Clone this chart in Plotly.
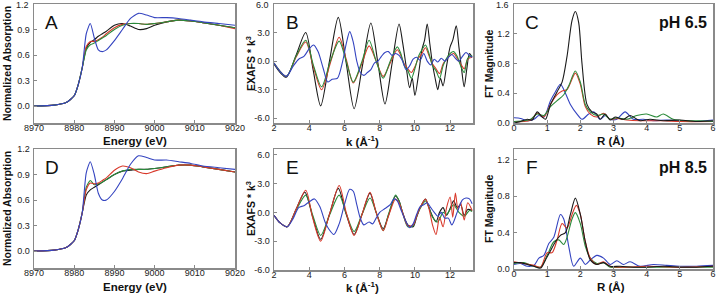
import plotly.graph_objects as go

# ---------------- XANES (panels A, D) ----------------
energy = [8970, 8975, 8978, 8980, 8981, 8982, 8983, 8984, 8985, 8986, 8987, 8988,
          8990, 8992, 8994, 8996, 8998, 9000, 9003, 9006, 9009, 9012, 9016, 9020]
pre = [0.0, 0.01, 0.04, 0.12, 0.25, 0.45]

a_black = pre + [0.68, 0.75, 0.78, 0.82, 0.85, 0.88, 0.95, 0.97, 0.94, 0.90, 0.91, 0.95, 0.99, 1.01, 1.00, 0.98, 0.95, 0.92]
a_red   = pre + [0.70, 0.76, 0.76, 0.78, 0.81, 0.85, 0.92, 0.96, 0.97, 0.97, 0.96, 0.97, 0.99, 1.01, 1.00, 0.98, 0.95, 0.91]
a_green = pre + [0.66, 0.72, 0.74, 0.77, 0.80, 0.83, 0.90, 0.95, 0.97, 0.97, 0.96, 0.97, 0.99, 1.01, 1.00, 0.98, 0.95, 0.92]
a_blue  = pre + [0.85, 0.97, 0.80, 0.66, 0.64, 0.66, 0.77, 0.90, 1.03, 1.09, 1.07, 1.04, 1.04, 1.03, 1.01, 0.99, 0.97, 0.95]

d_black = pre + [0.66, 0.72, 0.75, 0.78, 0.81, 0.84, 0.90, 0.94, 0.95, 0.96, 0.96, 0.97, 0.99, 1.01, 1.01, 0.99, 0.96, 0.93]
d_red   = pre + [0.72, 0.80, 0.79, 0.80, 0.83, 0.86, 0.95, 1.00, 0.98, 0.93, 0.91, 0.94, 0.98, 1.01, 1.01, 0.99, 0.96, 0.93]
d_green = pre + [0.75, 0.83, 0.78, 0.79, 0.81, 0.84, 0.90, 0.94, 0.96, 0.96, 0.96, 0.97, 0.99, 1.01, 1.01, 0.99, 0.96, 0.93]
d_blue  = pre + [0.92, 1.05, 0.90, 0.68, 0.60, 0.60, 0.70, 0.85, 1.02, 1.12, 1.10, 1.07, 1.07, 1.05, 1.03, 1.00, 0.98, 0.96]

# ---------------- EXAFS (panels B, E) ----------------
b_black_k = [2.0, 2.35, 2.7, 3.25, 3.8, 4.22, 4.65, 5.15, 5.65, 6.1, 6.55, 7.02, 7.5, 7.9, 8.3, 8.7, 9.1, 9.3, 9.5, 9.7,
             9.85, 10.0, 10.2, 10.4, 10.55, 10.7, 10.85, 11.0, 11.15, 11.3, 11.45, 11.6, 11.8, 12.0, 12.15, 12.35,
             12.5, 12.65, 12.8, 12.95, 13.1, 13.25]
b_black = [-0.3, -1.2, -1.7, 0.6, 3.0, -0.9, -4.7, 0.0, 4.6, -0.2, -5.0, -0.5, 4.0, -0.2, -4.5, -0.3, 3.9, 2.0, -0.5, -2.8,
           -1.8, -3.6, -1.5, 1.2, 2.2, 3.9, 1.8, -0.3, -1.8, -3.0, -1.8, -2.6, -0.5, 1.5, 2.2, 3.7,
           1.5, -0.8, -2.7, -0.8, 0.8, 0.4]

b_green_k = [2.0, 2.7, 3.25, 3.8, 4.25, 4.7, 5.2, 5.7, 6.1, 6.5, 7.0, 7.4, 7.8, 8.2, 8.6, 9.0, 9.2, 9.4, 9.6, 9.8,
             10.0, 10.2, 10.4, 10.6, 10.8, 11.0, 11.2, 11.4, 11.6, 11.8, 12.0, 12.2, 12.4, 12.6, 12.8, 13.0, 13.25]
b_green = [-0.2, -1.6, 0.5, 2.2, -0.5, -2.7, 0.0, 2.1, 0.0, -2.2, 0.0, 2.2, 0.0, -1.8, 0.0, 1.5, 0.8, -0.5, -1.0, -1.8,
           -0.8, 0.5, 1.2, 1.7, 0.8, -0.5, -1.0, -1.8, -0.5, 0.3, 0.8, 1.0, 0.5, -0.5, -1.2, 0.3, 0.6]

b_red_k = b_green_k
b_red = [-0.2, -1.6, 0.4, 2.0, -0.7, -3.0, -0.2, 2.5, 0.2, -2.3, -0.2, 1.6, 0.0, -1.6, -0.2, 1.2, 0.6, -0.3, -0.8, -1.2,
         -0.6, 0.3, 0.8, 1.4, 0.6, -0.3, -0.8, -1.3, -0.3, 0.2, 0.6, 0.8, 0.3, -0.3, -0.8, 0.2, 0.4]

b_blue_k = [2.0, 2.35, 2.7, 3.1, 3.4, 3.7, 4.0, 4.25, 4.5, 4.8, 5.05, 5.3, 5.6, 5.9, 6.1, 6.3, 6.5, 6.7, 6.9, 7.1,
            7.3, 7.5, 7.7, 7.9, 8.1, 8.3, 8.5, 8.7, 8.9, 9.1, 9.3, 9.5, 9.7, 9.9, 10.1, 10.3, 10.5, 10.7, 10.9,
            11.1, 11.3, 11.5, 11.7, 11.9, 12.1, 12.3, 12.5, 12.7, 12.9, 13.1, 13.25]
b_blue = [-0.2, -1.1, -1.6, -0.5, 0.2, 0.5, 1.3, 1.7, 1.0, -0.8, -2.2, -1.9, -1.8, 0.0, 1.8, 3.1, 2.0, 0.0, -1.2, -1.5,
          -1.2, -0.9, -0.2, 0.0, 0.5, 0.9, 1.0, 0.6, 0.8, 0.6, 0.0, -0.9, -0.5, 0.2, 0.4, 0.1, 0.8, 0.0, -0.4,
          0.2, -0.1, 0.3, 0.0, 0.4, 0.7, 0.3, 0.0, 0.5, 0.9, 0.6, 0.4]

e_black_k = [2.0, 2.35, 2.75, 3.25, 3.75, 4.2, 4.65, 5.15, 5.65, 6.1, 6.55, 7.0, 7.45, 7.8, 8.2, 8.5, 8.9, 9.1, 9.3, 9.6,
             9.9, 10.1, 10.3, 10.6, 10.8, 11.0, 11.2, 11.4, 11.6, 11.8, 12.0, 12.2, 12.4, 12.6, 12.8, 13.0, 13.25]
e_black = [-0.3, -1.1, -1.5, 0.3, 2.1, -0.5, -2.8, -0.2, 2.5, -0.2, -2.3, -0.2, 2.0, 0.0, -1.7, -0.3, 1.7, 1.2, 0.0, -1.3,
           -1.5, -0.5, 0.5, 1.4, 0.5, -0.4, -1.0, 0.0, 0.5, -0.3, 0.4, 1.2, 0.5, 0.8, -0.3, 0.3, 0.2]

e_red_k = [2.0, 2.35, 2.75, 3.25, 3.8, 4.2, 4.65, 5.15, 5.7, 6.1, 6.55, 7.0, 7.45, 7.8, 8.2, 8.5, 8.9, 9.1, 9.3, 9.6,
           9.9, 10.1, 10.3, 10.6, 10.8, 11.0, 11.2, 11.4, 11.6, 11.8, 12.0, 12.15, 12.3, 12.45, 12.6, 12.8, 13.0, 13.25]
e_red = [-0.3, -1.1, -1.5, 0.3, 2.3, -0.6, -3.0, -0.2, 2.8, 0.0, -2.4, -0.2, 2.1, 0.0, -1.9, -0.4, 1.4, 1.0, 0.0, -1.4,
         -1.3, -0.4, 0.5, 1.4, 0.4, -1.3, -2.3, -0.5, -1.5, 0.5, 1.6, -0.5, 2.0, 0.3, 1.0, -0.8, 1.0, 0.2]

e_green_k = [2.0, 2.35, 2.75, 3.25, 3.8, 4.2, 4.65, 5.15, 5.7, 6.1, 6.55, 7.0, 7.45, 7.8, 8.2, 8.5, 8.9, 9.1, 9.3, 9.6,
             9.9, 10.1, 10.3, 10.6, 10.8, 11.0, 11.3, 11.6, 11.8, 12.0, 12.2, 12.5, 12.8, 13.1, 13.25]
e_green = [-0.3, -1.1, -1.5, 0.2, 1.8, -0.3, -2.4, -0.3, 1.8, -0.1, -2.0, -0.2, 1.5, 0.0, -1.9, -0.2, 1.8, 1.2, 0.0, -1.5,
           -1.4, -0.4, 0.4, 1.2, 0.5, -0.5, -1.0, 0.0, -0.2, 0.3, 0.8, 0.0, -0.4, 0.2, 0.1]

e_blue_k = [2.0, 2.35, 2.75, 3.1, 3.4, 3.7, 4.0, 4.3, 4.6, 4.9, 5.1, 5.4, 5.7, 6.0, 6.3, 6.5, 6.7, 6.9, 7.1, 7.4,
            7.6, 7.8, 8.0, 8.3, 8.6, 8.8, 9.0, 9.2, 9.5, 9.7, 9.9, 10.1, 10.3, 10.5, 10.7, 10.9, 11.1, 11.3,
            11.5, 11.7, 11.9, 12.1, 12.4, 12.7, 12.9, 13.1, 13.25]
e_blue = [-0.3, -1.1, -1.5, -0.6, 0.5, 0.7, 1.1, 1.4, 0.6, -1.0, -1.7, -2.3, -1.2, 0.8, 2.4, 2.2, 0.8, -0.6, -1.3, -1.0,
          -1.2, -0.6, 0.0, 0.4, 0.8, 1.4, 1.2, 0.3, -1.0, -1.6, -1.2, -0.2, 0.6, 0.8, 1.0, 0.5, 0.0, -0.4,
          0.0, -0.6, -0.6, -1.3, 0.0, 1.3, 1.5, 1.4, 0.9]

# ---------------- Fourier transforms (panels C, F) ----------------
c_black_r = [0.0, 0.2, 0.4, 0.55, 0.7, 0.85, 0.95, 1.1, 1.3, 1.45, 1.6, 1.75, 1.85, 1.95, 2.05, 2.2, 2.35, 2.5, 2.6,
             2.75, 2.9, 3.05, 3.3, 3.5, 3.8, 4.1, 4.5, 5.0, 5.5, 6.0]
c_black = [0.0, 0.02, 0.05, 0.04, 0.15, 0.08, 0.05, 0.25, 0.42, 0.55, 0.9, 1.38, 1.5, 1.35, 0.8, 0.25, 0.15, 0.12, 0.05,
           0.12, 0.04, 0.08, 0.05, 0.1, 0.03, 0.05, 0.03, 0.04, 0.02, 0.03]
c_green_r = [0.0, 0.3, 0.5, 0.7, 0.9, 1.1, 1.3, 1.5, 1.65, 1.85, 2.0, 2.15, 2.3, 2.5, 2.7, 2.9, 3.1, 3.4, 3.7, 4.0,
             4.3, 4.5, 4.8, 5.2, 5.6, 6.0]
c_green = [0.02, 0.03, 0.05, 0.12, 0.1, 0.22, 0.3, 0.38, 0.5, 0.7, 0.55, 0.25, 0.15, 0.1, 0.12, 0.05, 0.07, 0.05, 0.1, 0.12,
           0.08, 0.12, 0.05, 0.03, 0.03, 0.02]
c_red_r = [0.0, 0.3, 0.5, 0.7, 0.9, 1.1, 1.3, 1.45, 1.6, 1.85, 2.0, 2.15, 2.3, 2.5, 2.7, 2.9, 3.1, 3.4, 3.8, 4.5, 5.0, 6.0]
c_red = [0.02, 0.02, 0.04, 0.13, 0.08, 0.25, 0.38, 0.43, 0.45, 0.67, 0.52, 0.22, 0.12, 0.08, 0.13, 0.05, 0.06, 0.04, 0.03,
         0.03, 0.02, 0.02]
c_blue_r = [0.0, 0.2, 0.4, 0.6, 0.75, 0.9, 1.1, 1.25, 1.4, 1.55, 1.7, 1.9, 2.05, 2.25, 2.4, 2.6, 2.75, 2.9, 3.1, 3.35,
            3.6, 3.9, 4.2, 4.6, 5.0, 5.5, 6.0]
c_blue = [0.07, 0.06, 0.03, 0.05, 0.1, 0.08, 0.3, 0.42, 0.52, 0.4, 0.25, 0.12, 0.05, 0.12, 0.15, 0.05, 0.1, 0.05, 0.05, 0.15,
          0.05, 0.05, 0.03, 0.04, 0.03, 0.02, 0.04]

f_black_r = [0.0, 0.2, 0.4, 0.6, 0.8, 0.95, 1.1, 1.25, 1.4, 1.55, 1.7, 1.85, 2.0, 2.15, 2.3, 2.5, 2.7, 2.9, 3.2, 3.6,
             4.0, 4.5, 5.0, 5.5, 6.0]
f_black = [0.07, 0.07, 0.05, 0.03, 0.01, 0.1, 0.2, 0.3, 0.37, 0.4, 0.6, 0.78, 0.6, 0.3, 0.1, 0.05, 0.07, 0.03, 0.03, 0.02,
           0.02, 0.03, 0.02, 0.02, 0.03]
f_red_r = [0.0, 0.3, 0.6, 0.8, 1.0, 1.15, 1.3, 1.45, 1.6, 1.75, 1.88, 2.0, 2.15, 2.3, 2.5, 2.7, 2.9, 3.3, 4.0, 5.0, 6.0]
f_red = [0.08, 0.06, 0.04, 0.02, 0.18, 0.18, 0.32, 0.5, 0.45, 0.6, 0.7, 0.6, 0.3, 0.12, 0.05, 0.08, 0.03, 0.02, 0.03, 0.02, 0.03]
f_green_r = [0.0, 0.3, 0.6, 0.8, 1.0, 1.2, 1.35, 1.5, 1.6, 1.75, 1.85, 2.0, 2.15, 2.3, 2.5, 2.7, 2.9, 3.3, 4.0, 5.0, 6.0]
f_green = [0.06, 0.07, 0.03, 0.02, 0.15, 0.3, 0.32, 0.27, 0.35, 0.55, 0.62, 0.5, 0.25, 0.12, 0.06, 0.07, 0.02, 0.02, 0.02, 0.02, 0.02]
f_blue_r = [0.0, 0.2, 0.4, 0.6, 0.75, 0.9, 1.05, 1.2, 1.4, 1.5, 1.65, 1.8, 2.0, 2.15, 2.3, 2.5, 2.7, 2.9, 3.1, 3.3,
            3.5, 3.8, 4.2, 4.6, 5.0, 5.5, 6.0]
f_blue = [0.05, 0.06, 0.03, 0.04, 0.12, 0.15, 0.28, 0.35, 0.6, 0.55, 0.25, 0.03, 0.12, 0.05, 0.1, 0.15, 0.12, 0.05, 0.09, 0.05,
          0.08, 0.03, 0.05, 0.04, 0.03, 0.03, 0.04]

BLACK = "#1a1a1a"
RED = "#d8382a"
GREEN = "#2a8a3a"
BLUE = "#3444c0"

W, H = 717, 295
FONT = "Arial, Liberation Sans, sans-serif"

def px_x(a, b):
    return [a / W, b / W]

def px_y(top, bottom):
    return [1 - bottom / H, 1 - top / H]

panels = [
    ("A", px_x(34, 235), px_y(4, 123), [8970, 9020], [-0.2, 1.2], [8970, 8980, 8990, 9000, 9010, 9020], [0, 0.3, 0.6, 0.9, 1.2], ".1f"),
    ("B", px_x(274, 473), px_y(4, 123), [2, 13.3], [-6.5, 6.0], [2, 4, 6, 8, 10, 12], [-6, -3, 0, 3, 6], ".1f"),
    ("C", px_x(514, 713), px_y(4, 123), [0, 6], [0, 1.6], [0, 1, 2, 3, 4, 5, 6], [0, 0.4, 0.8, 1.2, 1.6], ".1f"),
    ("D", px_x(34, 235), px_y(149, 268), [8970, 9020], [-0.2, 1.2], [8970, 8980, 8990, 9000, 9010, 9020], [0, 0.3, 0.6, 0.9, 1.2], ".1f"),
    ("E", px_x(274, 473), px_y(149, 270), [2, 13.3], [-6.0, 6.6], [2, 4, 6, 8, 10, 12], [-6, -3, 0, 3, 6], ".1f"),
    ("F", px_x(514, 713), px_y(149, 269), [0, 6], [0, 1.32], [0, 1, 2, 3, 4, 5, 6], [0, 0.4, 0.8, 1.2], ".1f"),
]

fig = go.Figure()

def add(i, x, y, color, spline=True, smooth=0.8):
    ax = "" if i == 0 else str(i + 1)
    fig.add_trace(go.Scatter(
        x=x, y=y, mode="lines", xaxis="x" + ax, yaxis="y" + ax,
        line=dict(color=color, width=1.1, shape="spline" if spline else "linear", smoothing=smooth),
        showlegend=False, hoverinfo="skip"))

add(0, energy, a_black, BLACK, smooth=0.6)
add(0, energy, a_red, RED, smooth=0.6)
add(0, energy, a_green, GREEN, smooth=0.6)
add(0, energy, a_blue, BLUE, smooth=0.6)

add(1, b_black_k, b_black, BLACK)
add(1, b_red_k, b_red, RED)
add(1, b_green_k, b_green, GREEN)
add(1, b_blue_k, b_blue, BLUE)

add(2, c_blue_r, c_blue, BLUE)
add(2, c_red_r, c_red, RED)
add(2, c_green_r, c_green, GREEN)
add(2, c_black_r, c_black, BLACK)

add(3, energy, d_black, BLACK, smooth=0.6)
add(3, energy, d_green, GREEN, smooth=0.6)
add(3, energy, d_red, RED, smooth=0.6)
add(3, energy, d_blue, BLUE, smooth=0.6)

add(4, e_black_k, e_black, BLACK)
add(4, e_green_k, e_green, GREEN)
add(4, e_red_k, e_red, RED)
add(4, e_blue_k, e_blue, BLUE)

add(5, f_blue_r, f_blue, BLUE)
add(5, f_green_r, f_green, GREEN)
add(5, f_red_r, f_red, RED)
add(5, f_black_r, f_black, BLACK)

layout = dict(
    width=W, height=H, margin=dict(l=0, r=0, t=0, b=0, autoexpand=False),
    paper_bgcolor="white", plot_bgcolor="white",
    font=dict(family=FONT, color="#111", size=9),
)
top_labels = []
for i, (name, xd, yd, xr, yr, xt, yt, yf) in enumerate(panels):
    ax = "" if i == 0 else str(i + 1)
    common = dict(showline=True, linecolor="#8a8a8a", linewidth=1.5, mirror=True, automargin=False,
                  showgrid=False, zeroline=False, ticks="inside", ticklen=3,
                  tickcolor="#8a8a8a", tickfont=dict(size=9, family=FONT, color="#222"))
    ylabels = [format(v, yf) for v in yt]
    if i < 3:
        # top-row: the highest label sits on the frame edge; draw it as an annotation so it is not dropped
        top_labels.append((ax, yt[-1], ylabels[-1]))
        ylabels[-1] = ""
    layout["xaxis" + ax] = dict(domain=xd, range=xr, tickvals=xt, anchor="y" + ax, ticklabelstandoff=-4, **common)
    layout["yaxis" + ax] = dict(domain=yd, range=yr, tickvals=yt, ticktext=ylabels, anchor="x" + ax,
                                ticklabelstandoff=1, **common)

fig.update_layout(**layout)

ann = []
def text(x, y, s, size=11, bold=True, angle=0, xanchor="center"):
    ann.append(dict(x=x / W, y=1 - y / H, xref="paper", yref="paper", text=("<b>%s</b>" % s) if bold else s,
                    showarrow=False, textangle=angle, xanchor=xanchor, yanchor="middle",
                    font=dict(size=size, family=FONT, color="#111")))

for ax, v, lab in top_labels:
    ann.append(dict(x=0, y=v, xref="x%s domain" % ax, yref="y" + ax, text=lab, showarrow=False,
                    xanchor="right", yanchor="middle", xshift=-3, yshift=-1,
                    font=dict(size=9, family=FONT, color="#222")))

for row, (ty, my) in enumerate([(141, 64), (287, 209)]):
    text(135, ty, "Energy (eV)", 11.5)
    text(362, ty, "k (Å<sup>-1</sup>)", 11.5)
    text(611, ty, "R (Å)", 11.5)
    text(7, my, "Normalized Absorption", 10.5, angle=-90)
    text(250, my, "EXAFS * k<sup>3</sup>", 10.5, angle=-90)
    text(489, my, "FT Magnitude", 10.5, angle=-90)

for (x, y, s) in [(52, 22, "A"), (292, 22, "B"), (532, 22, "C"), (52, 167, "D"), (292, 167, "E"), (532, 167, "F")]:
    text(x, y, s, 19, bold=False)
text(709, 22, "pH 6.5", 16, xanchor="right")
text(709, 167, "pH 8.5", 16, xanchor="right")

fig.update_layout(annotations=ann)
fig.write_html("out.html", config={"displayModeBar": False, "staticPlot": True},
               post_script="document.body.style.margin='0';document.body.style.overflow='hidden';")
